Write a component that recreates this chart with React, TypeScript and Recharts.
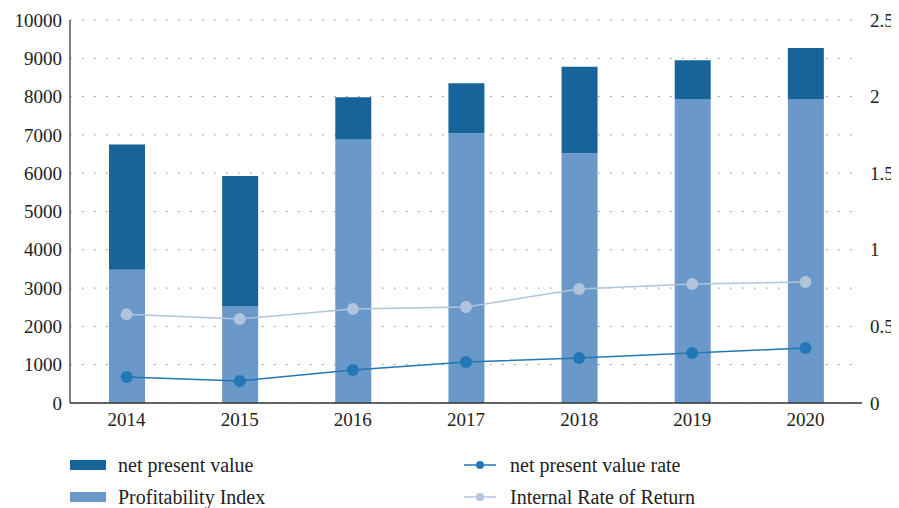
import React from "react";
import { ComposedChart, Bar, Line, XAxis, YAxis, CartesianGrid } from "recharts";

const years = ["2014", "2015", "2016", "2017", "2018", "2019", "2020"];
const profitabilityIndex = [3480, 2520, 6880, 7040, 6520, 7940, 7940];
const netPresentValue = [3270, 3410, 1100, 1310, 2260, 1010, 1330];
const npvRate = [0.17, 0.144, 0.215, 0.268, 0.294, 0.326, 0.359];
const irr = [0.58, 0.548, 0.614, 0.627, 0.744, 0.777, 0.79];

const leftTicks = [0, 1000, 2000, 3000, 4000, 5000, 6000, 7000, 8000, 9000, 10000];
const rightTicks = [0, 0.5, 1, 1.5, 2, 2.5];

const DARK = "#16649a";
const LIGHT = "#6a98c8";
const RATE = "#2277b5";
const IRR = "#b0c4de";
const FONT = "'Liberation Serif', 'DejaVu Serif', serif";

const data = years.map((year, i) => ({
  year,
  pi: profitabilityIndex[i],
  npv: netPresentValue[i],
  rate: npvRate[i],
  irr: irr[i],
}));

function makeTick(anchor: "start" | "middle" | "end", dy: string) {
  return (props: any) => {
    const { x, y, payload } = props;
    return (
      <text x={x} y={y} dy={dy} textAnchor={anchor} fontFamily={FONT} fontSize={19} fill="#222">
        {payload.value}
      </text>
    );
  };
}

const xTick = makeTick("middle", "0.71em");
const leftTick = makeTick("end", "0.35em");
const rightTick = makeTick("start", "0.35em");

function LegendItem({ kind, color, label }: { kind: "bar" | "line"; color: string; label: string }) {
  return (
    <div style={{ display: "flex", alignItems: "center", height: 32 }}>
      {kind === "bar" ? (
        <svg width={48} height={12}>
          <rect x={0} y={1} width={36} height={10} fill={color} />
        </svg>
      ) : (
        <svg width={46} height={12}>
          <line x1={0} y1={6} x2={32} y2={6} stroke={color} strokeWidth={1.5} />
          <circle cx={16} cy={6} r={4} fill={color} />
        </svg>
      )}
      <span style={{ fontSize: 20, color: "#222", fontFamily: FONT }}>{label}</span>
    </div>
  );
}

export default function App() {
  return (
    <div style={{ width: 891, fontFamily: FONT }}>
      <ComposedChart width={891} height={430} data={data} margin={{ top: 12, right: 0, bottom: 0, left: 0 }}>
        <CartesianGrid vertical={false} stroke="#888" strokeDasharray="1.5 10.5" yAxisId="left" />
        <XAxis
          dataKey="year"
          height={35}
          tickSize={0}
          tickMargin={10}
          tick={xTick}
          axisLine={{ stroke: "#333", strokeWidth: 1.5 }}
          tickLine={false}
        />
        <YAxis
          yAxisId="left"
          width={62}
          domain={[0, 10000]}
          ticks={leftTicks}
          interval={0}
          tickSize={0}
          tickMargin={8}
          tick={leftTick}
          axisLine={{ stroke: "#555", strokeWidth: 1.5 }}
          tickLine={false}
        />
        <YAxis
          yAxisId="right"
          orientation="right"
          width={37}
          domain={[0, 2.5]}
          ticks={rightTicks}
          interval={0}
          tickSize={0}
          tickMargin={8}
          tick={rightTick}
          axisLine={false}
          tickLine={false}
        />
        <Bar yAxisId="left" dataKey="pi" stackId="a" fill={LIGHT} barSize={36} isAnimationActive={false} />
        <Bar yAxisId="left" dataKey="npv" stackId="a" fill={DARK} barSize={36} isAnimationActive={false} />
        <Line
          yAxisId="right"
          dataKey="irr"
          stroke={IRR}
          strokeWidth={1.5}
          dot={{ r: 6, fill: IRR, stroke: IRR, strokeWidth: 0 }}
          isAnimationActive={false}
        />
        <Line
          yAxisId="right"
          dataKey="rate"
          stroke={RATE}
          strokeWidth={1.5}
          dot={{ r: 6, fill: RATE, stroke: RATE, strokeWidth: 0 }}
          isAnimationActive={false}
        />
      </ComposedChart>
      <div style={{ display: "flex", marginTop: 11, paddingLeft: 62 }}>
        <div style={{ width: 394 }}>
          <LegendItem kind="bar" color={DARK} label="net present value" />
          <LegendItem kind="bar" color={LIGHT} label="Profitability Index" />
        </div>
        <div>
          <LegendItem kind="line" color={RATE} label="net present value rate" />
          <LegendItem kind="line" color={IRR} label="Internal Rate of Return" />
        </div>
      </div>
    </div>
  );
}
